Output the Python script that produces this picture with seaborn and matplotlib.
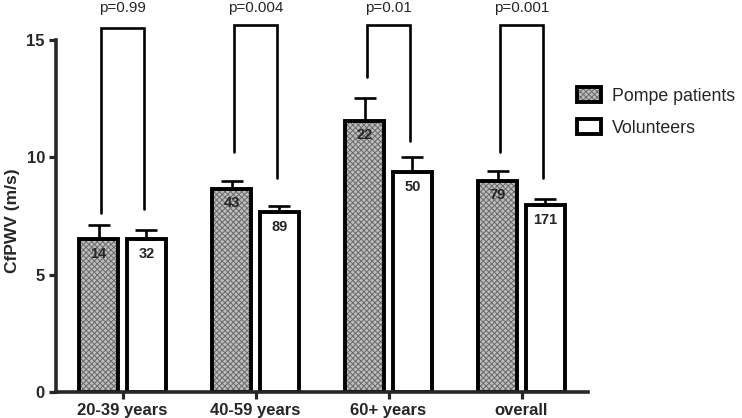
import numpy as np
import pandas as pd
import matplotlib
matplotlib.use("Agg")
import matplotlib.pyplot as plt
import seaborn as sns
from matplotlib.patches import Patch

categories = ["20-39 years", "40-59 years", "60+ years", "overall"]
groups = ["Pompe patients", "Volunteers"]
pompe_mean = [6.5, 8.65, 11.55, 9.0]
pompe_err = [0.6, 0.35, 0.95, 0.4]
vol_mean = [6.5, 7.65, 9.35, 7.95]
vol_err = [0.4, 0.25, 0.65, 0.25]
pompe_n = ["14", "43", "22", "79"]
vol_n = ["32", "89", "50", "171"]
p_values = ["p=0.99", "p=0.004", "p=0.01", "p=0.001"]
bracket_top = [15.5, 15.6, 15.6, 15.6]
bracket_left_bottom = [7.6, 10.2, 13.4, 10.2]
bracket_right_bottom = [7.8, 9.1, 10.7, 9.1]

sns.set_theme(style="ticks")
plt.rcParams["font.family"] = ["Liberation Sans", "DejaVu Sans"]
plt.rcParams["hatch.linewidth"] = 0.7

HATCH_COLOR = (0.42, 0.42, 0.42, 1.0)
FACE = "#bdbdbd"

df = pd.DataFrame({
    "category": categories * 2,
    "group": [groups[0]] * 4 + [groups[1]] * 4,
    "value": pompe_mean + vol_mean,
})

fig = plt.figure(figsize=(7.42, 4.18), dpi=100)
ax = fig.add_axes([56 / 742, 1 - 392 / 418, 532 / 742, 390 / 418])

sns.barplot(data=df, x="category", y="value", hue="group", hue_order=groups,
            palette=[FACE, "white"], width=0.72, gap=0.2,
            errorbar=None, edgecolor="black", linewidth=2.8, ax=ax,
            legend=False)

bar_containers = list(ax.containers)
errs = [pompe_err, vol_err]
labels = [pompe_n, vol_n]
centers = []
for gi, cont in enumerate(bar_containers):
    xs, hs = [], []
    for bi, p in enumerate(cont.patches):
        if gi == 0:
            p.set_hatch("xxxxxx")
            p._hatch_color = HATCH_COLOR
        x = p.get_x() + p.get_width() / 2
        h = p.get_height()
        xs.append(x)
        hs.append(h)
        ax.text(x, h - 0.62, labels[gi][bi], ha="center", va="center",
                fontsize=10.5, fontweight="bold", zorder=5)
    ax.errorbar(xs, hs, yerr=[np.zeros(len(xs)), errs[gi]], fmt="none",
                ecolor="black", elinewidth=1.9, capsize=8, capthick=1.9,
                zorder=1)
    centers.append(xs)

for i in range(len(categories)):
    xl = centers[0][i] + 0.02
    xr = centers[1][i] - 0.02
    ax.plot([xl, xl, xr, xr],
            [bracket_left_bottom[i], bracket_top[i], bracket_top[i], bracket_right_bottom[i]],
            color="black", lw=1.9, clip_on=False, solid_joinstyle="miter")
    ax.text(i, 16.35, p_values[i], ha="center", va="center", fontsize=11)

ax.set_xlim(-0.5, 3.5)
ax.set_ylim(0, 16.6)
ax.set_yticks([0, 5, 10, 15])
ax.spines["left"].set_bounds(0, 15)
sns.despine(ax=ax)
for s in ["left", "bottom"]:
    ax.spines[s].set_linewidth(2.6)
ax.tick_params(axis="both", width=2.3, length=5, labelsize=12, pad=3)
for lab in ax.get_xticklabels() + ax.get_yticklabels():
    lab.set_fontweight("bold")
ax.set_xlabel("")
ax.set_ylabel("CfPWV (m/s)", fontsize=12.5, fontweight="bold")
ax.yaxis.set_label_coords(-0.068, 0.44)

handles = [Patch(facecolor=FACE, edgecolor="black", hatch="xxxxxx", linewidth=2.8),
           Patch(facecolor="white", edgecolor="black", linewidth=2.8)]
leg = fig.legend(handles, groups, loc="upper left", bbox_to_anchor=(577 / 742, 1 - 87 / 418),
                 frameon=False, fontsize=12.8, handlelength=1.35, handleheight=0.95,
                 handletextpad=0.6, labelspacing=0.8, borderaxespad=0, borderpad=0)
leg.legend_handles[0]._hatch_color = HATCH_COLOR

fig.savefig("out.png", dpi=100)
